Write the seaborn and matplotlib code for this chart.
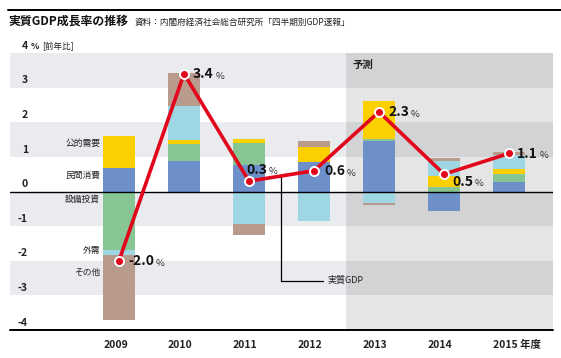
import matplotlib
matplotlib.use("Agg")
import matplotlib.pyplot as plt
import matplotlib.transforms as mtransforms
from matplotlib.lines import Line2D
import seaborn as sns
import numpy as np

# --- データ（寄与度, %ポイント） ---
years = ["2009", "2010", "2011", "2012", "2013", "2014", "2015"]
year_labels = ["2009", "2010", "2011", "2012", "2013", "2014", "2015 年度"]
components = ["民間消費", "設備投資", "公的需要", "外需", "その他"]
colors = ["#6d8fca", "#87c594", "#fcd000", "#9fd6e4", "#b99b8d"]

private_consumption = [0.67, 0.89, 0.77, 0.84, 1.45, -0.55, 0.27]
capex = [-1.70, 0.48, 0.62, 0.02, 0.06, 0.14, 0.24]
public_demand = [0.94, 0.12, 0.14, 0.43, 1.11, 0.32, 0.14]
net_exports = [-0.12, 0.99, -0.95, -0.84, -0.33, 0.43, 0.41]
others = [-1.90, 0.93, -0.32, 0.17, -0.06, 0.08, 0.07]

real_gdp = [-2.0, 3.4, 0.3, 0.6, 2.3, 0.5, 1.1]
gdp_labels = ["-2.0", "3.4", "0.3", "0.6", "2.3", "0.5", "1.1"]
y_ticks = [3, 2, 1, 0, -1, -2, -3, -4]

W, H = 561, 358
RED = "#e1061b"

sns.set_style("white")
plt.rcParams["font.family"] = ["Noto Sans CJK JP", "DejaVu Sans"]

fig = plt.figure(figsize=(W / 100, H / 100), dpi=100)
ax = fig.add_axes([10 / W, 1 - 330 / H, 543 / W, 277 / H])

# 背景の帯
for v in [3, 1, -1, -3]:
    ax.axhspan(v, v + 1, color="#e9ebee", lw=0, zorder=0)
ax.axvspan(3.5, 6.68, color="black", alpha=0.1, lw=0, zorder=0.5)

# 積み上げ棒
series = [private_consumption, capex, public_demand, net_exports, others]
pos_base = np.zeros(len(years))
neg_base = np.zeros(len(years))
for name, vals, col in zip(components, series, colors):
    vals = np.array(vals)
    bottom = np.where(vals >= 0, pos_base, neg_base)
    sns.barplot(x=years, y=vals, order=years, bottom=bottom, color=col,
                width=0.49, saturation=1, errorbar=None, ax=ax, zorder=2,
                linewidth=0, edgecolor="none")
    pos_base += np.clip(vals, 0, None)
    neg_base += np.clip(vals, None, 0)

ax.axhline(0, color="black", lw=1.0, zorder=2.5)
ax.axhline(-4, color="black", lw=1.4, zorder=2.5, clip_on=False)

# 実質GDPの折れ線
sns.lineplot(x=np.arange(len(years)), y=real_gdp, color=RED, lw=2.6,
             marker="o", markersize=6.5, markerfacecolor=RED,
             markeredgecolor="white", markeredgewidth=1.4, ax=ax, zorder=4)

ax.set_xlim(-1.677, 6.677)
ax.set_ylim(-4, 4)
ax.set_xlabel("")
ax.set_ylabel("")
ax.set_yticks([])
for s in ax.spines.values():
    s.set_visible(False)
ax.set_xticks(np.arange(len(years)) - 0.245, year_labels,
              fontsize=7.5, fontweight="bold", color="#222222", ha="left")
ax.tick_params(axis="x", length=0, pad=7)

# GDPラベル（数字 + 小さい%）
offsets = [(9, 0), (9, 0), (-3, 12), (10, 0), (9, 0), (8, -7), (8, 0)]
for i, (lab, v, (dx, dy)) in enumerate(zip(gdp_labels, real_gdp, offsets)):
    t = ax.annotate(lab, xy=(i, v), xytext=(dx * 0.72, (dy - 4.5) * 0.72),
                    textcoords="offset points", ha="left", va="baseline",
                    fontsize=10, fontweight="bold", color="#111111", zorder=5)
    ax.annotate("%", xy=(1, 0), xycoords=t, xytext=(1, 0.5),
                textcoords="offset points", ha="left", va="bottom",
                fontsize=6.8, color="#333333", zorder=5)

# 左側の項目ラベル
left_labels = [("公的需要", 1.38), ("民間消費", 0.46), ("設備投資", -0.23),
               ("外需", -1.70), ("その他", -2.33)]
for lab, y in left_labels:
    ax.text(-0.29, y, lab, ha="right", va="center", fontsize=6.3, color="#222222")

# y軸の数値
ytrans = mtransforms.blended_transform_factory(fig.transFigure, ax.transData)
for v in y_ticks:
    ax.text(28 / W, v + 0.21, str(v), transform=ytrans, ha="right", va="center",
            fontsize=7.5, fontweight="bold", color="#222222", clip_on=False)

# 実質GDPの引き出し線
ax.plot([2.49, 2.49, 3.14], [0.46, -2.59, -2.59], color="black", lw=0.9, zorder=3)
ax.text(3.21, -2.55, "実質GDP", ha="left", va="center", fontsize=6.5, color="#222222")

# 予測
ax.text(3.6, 3.65, "予測", ha="left", va="center", fontsize=7.5,
        fontweight="bold", color="#222222")

# タイトル
fig.add_artist(Line2D([8 / W, 1.0], [1 - 10 / H, 1 - 10 / H], color="black", lw=1.4))
fig.text(8 / W, 1 - 21 / H, "実質GDP成長率の推移", ha="left", va="center",
         fontsize=8.6, fontweight="bold", color="#111111")
fig.text(135 / W, 1 - 22 / H, "資料：内閣府経済社会総合研究所「四半期別GDP速報」",
         ha="left", va="center", fontsize=6.2, color="#222222")

# 単位
u1 = fig.text(22 / W, 1 - 46 / H, "4", ha="left", va="center",
              fontsize=7.5, fontweight="bold", color="#222222")
u2 = ax.annotate("%", xy=(1, 0), xycoords=u1, xytext=(2, 0), textcoords="offset points",
                 ha="left", va="bottom", fontsize=6.3, fontweight="bold", color="#222222")
ax.annotate("[前年比]", xy=(1, 0), xycoords=u2, xytext=(2, 0), textcoords="offset points",
            ha="left", va="bottom", fontsize=6.2, color="#222222")

fig.savefig("out.png", dpi=100)
